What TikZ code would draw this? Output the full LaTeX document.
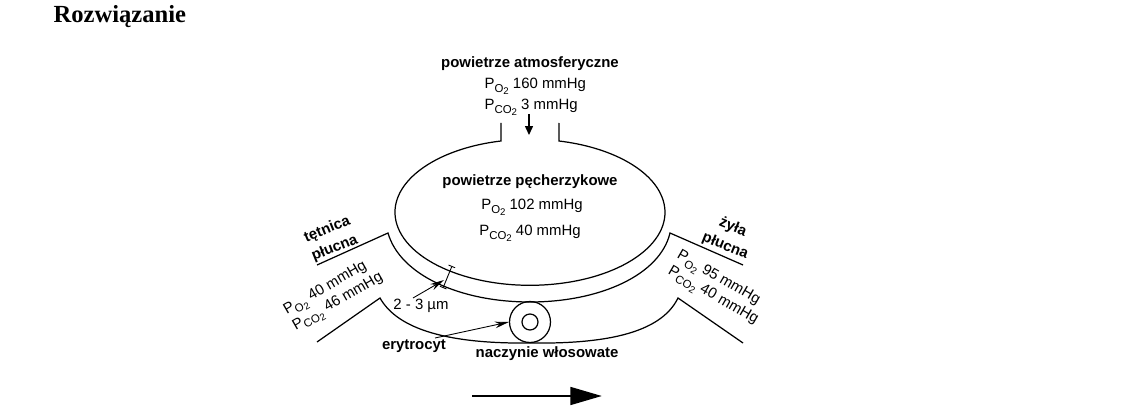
\documentclass[tikz,border=0pt]{standalone}
\usepackage{fontspec}
\setmainfont{Liberation Serif}
\setsansfont{Liberation Sans}
\usetikzlibrary{arrows.meta}
\newcommand{\press}[1]{P\raisebox{-0.5ex}{\fontsize{6.5}{7}\selectfont #1\raisebox{-0.3ex}{\fontsize{5.5}{6}\selectfont 2}}}

\begin{document}
\begin{tikzpicture}[x=0.02cm, y=-0.02cm, line width=0.7pt, >={Stealth[length=8pt, width=3.8pt]},
        ptext/.style={inner sep=0pt, font=\sffamily\fontsize{8.5}{10.2}\selectfont},
        btext/.style={inner sep=0pt, font=\sffamily\bfseries\fontsize{8.5}{11.5}\selectfont}]
    \useasboundingbox (0,0) rectangle (1146,412);
    \node[anchor=base west, inner sep=0pt, font=\bfseries\fontsize{14}{16}\selectfont] (title) at (53,22.7) {Rozwiązanie};

    \node[btext] (atmo) at (530,63.5) {powietrze atmosferyczne};
    \node[ptext, anchor=west] (atmoO) at (484,86) {\press{O} 160 mmHg};
    \node[ptext, anchor=west] (atmoC) at (484,107) {\press{CO} 3 mmHg};
    \node[btext] (alv) at (530,182) {powietrze pęcherzykowe};
    \node[ptext] (alvO) at (532,207) {\press{O} 102 mmHg};
    \node[ptext] (alvC) at (530,233) {\press{CO} 40 mmHg};

    \node[btext, rotate=22, align=center] (art) at (331,239) {tętnica\\płucna};
    \node[ptext, rotate=30, align=left] (artP) at (334,295) {\press{O} 40 mmHg\\\press{CO} 46 mmHg};
    \node[btext, rotate=-22, align=center] (vein) at (729,237) {żyła\\płucna};
    \node[ptext, rotate=-30, align=left] (veinP) at (717,289) {\press{O} 95 mmHg\\\press{CO} 40 mmHg};

    \node[ptext] (gap) at (421,306) {2 - 3 µm};
    \node[btext] (erytext) at (414,346) {erytrocyt};
    \node[btext] (cap) at (547,354) {naczynie włosowate};
    \node[circle, draw, minimum size=0.82cm, inner sep=0pt] (ery) at (530,322) {};
    \node[circle, draw, minimum size=0.32cm, inner sep=0pt] (core) at (ery) {};

    \draw (501,123) -- (501,141) arc[start angle=257.6, end angle=-77.6, x radius=135, y radius=73] -- (559,123);
    \draw (317,265) -- (388,233) .. controls (400,275) and (460,302) .. (530,302)
        .. controls (600,302) and (660,275) .. (670,233) -- (743,265);
    \draw (317,342) -- (380,298) .. controls (398,330) and (450,344) .. (530,343)
        .. controls (600,344) and (660,335) .. (678,298) -- (743,343);

    \coordinate (intake) at (529,114);
    \coordinate (inflow) at (529,135);
    \draw[-{Triangle[length=5pt, width=4.5pt]}, line width=0.6pt] (intake) -- (inflow);

    \coordinate (wallA) at (452,266);
    \coordinate (wallB) at (443,288);
    \draw[{Bar[width=4pt]}-{Bar[width=4pt]}, line width=0.5pt] (wallA) -- (wallB);
    \coordinate (gaptail) at (413,298);
    \coordinate (gaptip) at (444,280);
    \draw[->, line width=0.5pt] (gaptail) -- (gaptip);
    \coordinate (erytail) at (435,338);
    \draw[->, line width=0.5pt] (erytail) -- (ery.west);

    \coordinate (flowA) at (472,396);
    \coordinate (flowB) at (602,396);
    \draw[-{Triangle[length=18pt, width=10pt]}, line width=1.7pt] (flowA) -- (flowB);
\end{tikzpicture}
\end{document}
